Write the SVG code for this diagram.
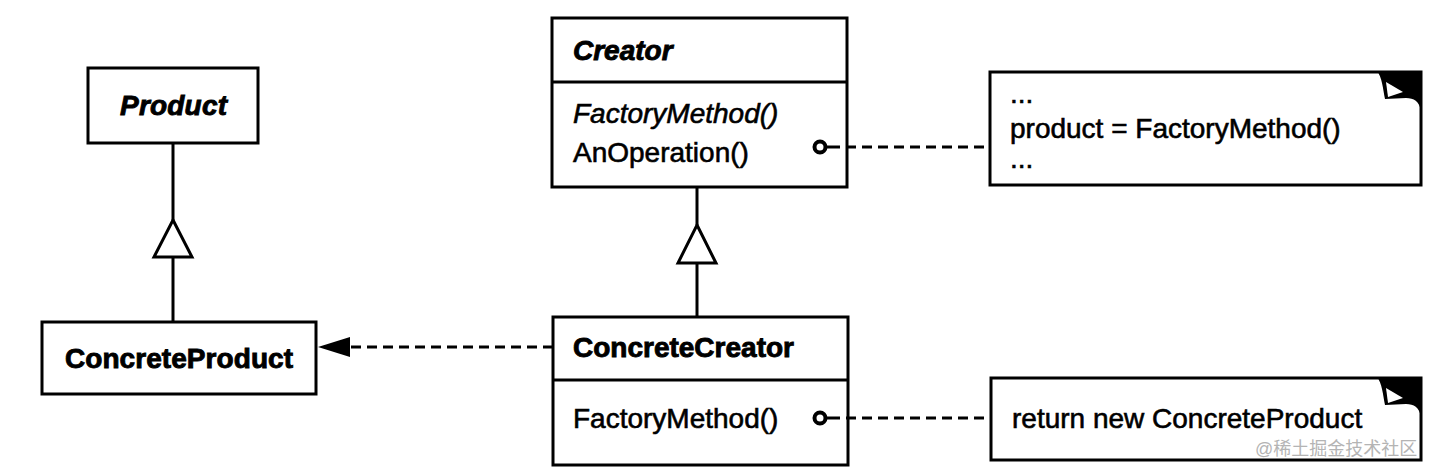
<svg xmlns="http://www.w3.org/2000/svg" xmlns:xlink="http://www.w3.org/1999/xlink" width="1434" height="476" viewBox="0 0 1434 476">
<style>
.box{fill:#fff;stroke:#000;stroke-width:3}
.ln{fill:none;stroke:#000;stroke-width:3}
.dash{fill:none;stroke:#000;stroke-width:3;stroke-dasharray:10 6}
.tri{fill:#fff;stroke:#000;stroke-width:3;stroke-linejoin:miter}
.pin{fill:#fff;stroke:#000;stroke-width:4}
.t{font-family:"Liberation Sans",Arial,sans-serif;font-size:28px;fill:#000;stroke:#000;stroke-width:0.6}
.b{font-weight:bold;stroke-width:0.9}
.i{font-style:italic}
.wm{font-family:"Liberation Sans","Noto Sans CJK SC",sans-serif;font-size:18px;fill:#b4b4b4}
</style>
<defs>
<g id="ear">
<path d="M1377,71 L1421,71 L1421,111 C1419,101 1414,98 1406,98 L1385,99 C1383,89 1382,77 1377,71 Z" fill="#000"/>
<path d="M1386,82 L1403,92 L1388,97 Z" fill="#fff"/>
</g>
</defs>
<rect width="1434" height="476" fill="#fff"/>
<g id="product">
<rect class="box" x="88" y="68" width="170" height="75"/>
<text class="t b i" x="120" y="115" textLength="107">Product</text>
</g>
<g id="concreteproduct">
<rect class="box" x="42" y="322" width="274" height="72"/>
<text class="t b" x="65" y="368" textLength="228">ConcreteProduct</text>
</g>
<g id="creator">
<rect class="box" x="552" y="18" width="295" height="169"/>
<line class="ln" x1="552" y1="82" x2="847" y2="82"/>
<text class="t b i" x="573" y="60">Creator</text>
<text class="t i" x="573" y="123">FactoryMethod()</text>
<text class="t" x="573" y="162">AnOperation()</text>
</g>
<g id="concretecreator">
<rect class="box" x="553" y="317" width="295" height="148"/>
<line class="ln" x1="553" y1="380" x2="848" y2="380"/>
<text class="t b" x="573" y="357">ConcreteCreator</text>
<text class="t" x="573" y="428">FactoryMethod()</text>
</g>
<g id="note1">
<rect class="box" x="990" y="72" width="431" height="113"/>
<use xlink:href="#ear"/>
<text class="t" x="1010" y="103">...</text>
<text class="t" x="1010" y="138">product = FactoryMethod()</text>
<text class="t" x="1010" y="168">...</text>
</g>
<g id="note2">
<rect class="box" x="991" y="378" width="430" height="82"/>
<use xlink:href="#ear" transform="translate(0,306)"/>
<text class="t" x="1012" y="428">return new ConcreteProduct</text>
</g>
<g id="connectors">
<line class="ln" x1="173" y1="143" x2="173" y2="220"/>
<polygon class="tri" points="173,220 192,257 154,257"/>
<line class="ln" x1="173" y1="257" x2="173" y2="322"/>
<line class="ln" x1="697" y1="187" x2="697" y2="225"/>
<polygon class="tri" points="697,225 716,263 678,263"/>
<line class="ln" x1="697" y1="263" x2="697" y2="317"/>
<line class="dash" x1="553" y1="347" x2="350" y2="347"/>
<polygon points="318,347 350,337 350,357" fill="#000"/>
<circle class="pin" cx="820" cy="147" r="5.5"/>
<line class="ln" x1="826" y1="147" x2="840" y2="147"/>
<line class="dash" x1="846" y1="147" x2="990" y2="147"/>
<circle class="pin" cx="820" cy="418" r="5.5"/>
<line class="ln" x1="826" y1="418" x2="840" y2="418"/>
<line class="dash" x1="846" y1="418" x2="991" y2="418"/>
</g>
<text class="wm" x="1255" y="455">@稀土掘金技术社区</text>
</svg>
